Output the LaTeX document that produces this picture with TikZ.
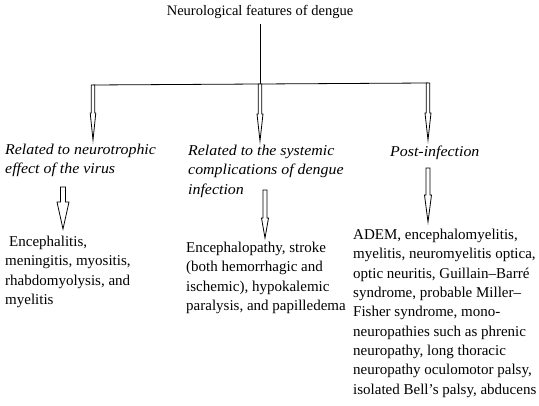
\documentclass[tikz,border=0pt]{standalone}
\usepackage{fontspec}
\setmainfont{Liberation Serif}
\newfontfamily\relfont[FakeStretch=1.06]{Liberation Serif}
\newcommand\hollowarrow[5]{% #1 start coord, #2 shaft length, #3 head length, #4 shaft half width, #5 head half width
  \draw[arrowline] (#1) ++(-#4,0) -- ++(0,#2) -- ++(#4-#5,0) -- ++(#5,#3) -- ++(#5,-#3) -- ++(#4-#5,0) -- ++(0,-#2) -- cycle;}
\begin{document}
\begin{tikzpicture}[x=1pt,y=-1pt,
  arrowline/.style={draw=black,fill=white,line width=0.8pt,line join=miter},
  conn/.style={draw=black,line width=0.8pt},
  body/.style={anchor=north west,inner sep=0pt,align=left,font=\fontsize{15}{19.3}\selectfont},
  rel/.style={anchor=north west,inner sep=0pt,align=left,font=\relfont\itshape\fontsize{15}{19.3}\selectfont}]
\useasboundingbox (0,0) rectangle (539,406);
\node[inner sep=0pt,font=\fontsize{14.5}{17}\selectfont] (title) at (260,12) {Neurological features of dengue};
\coordinate (hub) at (260,84);
\coordinate (hl) at (93,85);
\coordinate (hr) at (428,83);
\draw[conn] (title.south) ++(0,5) coordinate (ttop) -- (hub);
\draw[conn] (hl) -- (hub) -- (hr);
\hollowarrow{hl}{28}{27}{1.7}{2.8}
\hollowarrow{hub}{30}{27}{1.8}{3}
\hollowarrow{hr}{30}{27}{1.8}{3}
\node[rel] (r1) at (5,144) {Related to neurotrophic\\effect of the virus};
\node[rel] (r2) at (188,145) {Related to the systemic\\complications of dengue\\infection};
\node[rel] (r3) at (390,146) {Post-infection};
\coordinate (b1) at (63,187);
\coordinate (b2) at (265,190);
\coordinate (b3) at (428,168);
\hollowarrow{b1}{15}{27}{2.5}{6}
\hollowarrow{b2}{28}{20}{2}{3.5}
\hollowarrow{b3}{27}{27}{2}{3.5}
\node[body] (t1) at (5,236) {\hspace{4pt}Encephalitis,\\meningitis, myositis,\\rhabdomyolysis, and\\myelitis};
\node[body] (t2) at (186,242) {Encephalopathy, stroke\\(both hemorrhagic and\\ischemic), hypokalemic\\paralysis, and papilledema};
\node[body] (t3) at (353,229) {ADEM, encephalomyelitis,\\myelitis, neuromyelitis optica,\\optic neuritis, Guillain–Barré\\syndrome, probable Miller–\\Fisher syndrome, mono-\\neuropathies such as phrenic\\neuropathy, long thoracic\\neuropathy oculomotor palsy,\\isolated Bell\symbol{"0027}s palsy, abducens};
\end{tikzpicture}
\end{document}
